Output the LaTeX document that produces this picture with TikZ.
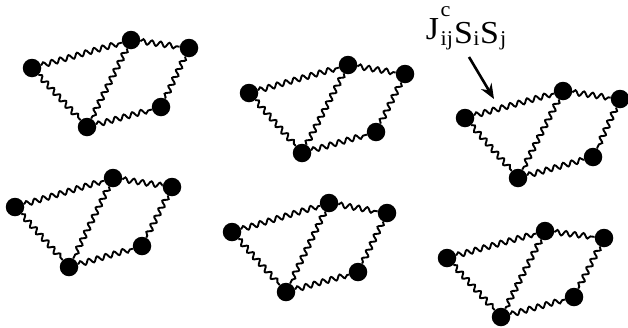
\documentclass[tikz,border=0pt]{standalone}
\usepackage{fontspec}
\setmainfont{Liberation Serif}
\usetikzlibrary{arrows.meta, decorations.pathmorphing}

\newcommand{\scr}[1]{{\fontsize{21}{21}\selectfont #1}}

\begin{document}
\begin{tikzpicture}[x=1pt, y=-1pt,
    site/.style={circle, fill=black, inner sep=0pt, minimum size=18.5pt},
    bond/.style={decorate, decoration={snake, amplitude=2.5pt, segment length=8.8pt}, line width=1.9pt}]
    \useasboundingbox (0,0) rectangle (628,327);
    % six plaquettes: left, top, right, corner (bottom right), bottom
    \foreach \c/\lx/\ly/\tx/\ty/\rx/\ry/\qx/\qy/\bx/\by in {
        1/32/68/131/40/189/48/161/107/87/127,
        2/249/93/348/65/405/74/376/132/302/153,
        3/465/118/563/91/620/99/593/157/518/178,
        4/15/207/113/178/172/187/142/246/69/267,
        5/232/232/329/203/387/213/358/272/286/292,
        6/447/258/545/231/604/238/574/297/501/317}{
        \node[site] (l\c) at (\lx,\ly) {};
        \node[site] (t\c) at (\tx,\ty) {};
        \node[site] (r\c) at (\rx,\ry) {};
        \node[site] (q\c) at (\qx,\qy) {};
        \node[site] (b\c) at (\bx,\by) {};
        \draw[bond] (l\c) -- (t\c);
        \draw[bond] (l\c) -- (b\c);
        \draw[bond] (t\c) -- (b\c);
        \draw[bond] (t\c) -- (r\c);
        \draw[bond] (r\c) -- (q\c);
        \draw[bond] (b\c) -- (q\c);
    }
    \node[anchor=base, inner sep=0pt, font=\fontsize{32}{34}\selectfont] (lbl) at (466,43)
        {\scalebox{1.06}[1]{\raisebox{4pt}{J}\hspace{1.5pt}\rlap{\raisebox{27pt}{\scr{c}}}\raisebox{-2pt}{\scr{ij}}\hspace{1pt}S\hspace{0.5pt}\raisebox{-2pt}{\scr{i}}\hspace{0.5pt}S\hspace{1pt}\raisebox{-2pt}{\scr{j}}}};
    \coordinate (tail) at (469,57);
    \coordinate (tip) at (494,99);
    \draw[-{Stealth[length=15pt, width=12pt]}, line width=2.6pt] (tail) -- (tip);
\end{tikzpicture}
\end{document}
